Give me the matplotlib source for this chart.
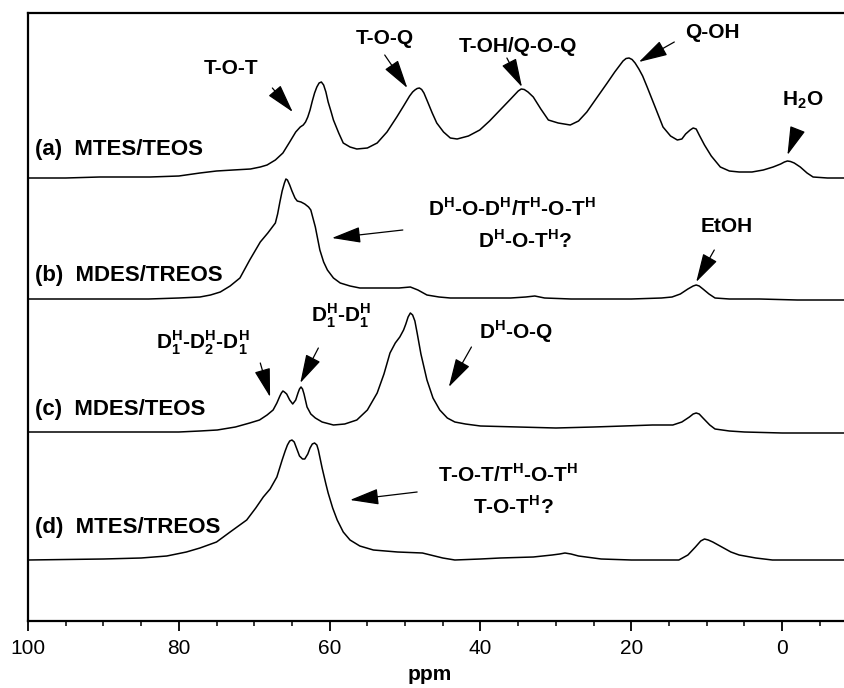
import matplotlib
matplotlib.use("Agg")
import matplotlib.pyplot as plt

plt.rcParams['font.family'] = ['Liberation Sans', 'DejaVu Sans']
plt.rcParams['mathtext.fontset'] = 'custom'
plt.rcParams['mathtext.rm'] = 'Liberation Sans'
plt.rcParams['mathtext.bf'] = 'Liberation Sans:bold'

# (a) MTES/TEOS
a_ppm = [100, 95, 90.5, 86, 83.8, 80, 77.2, 75, 72.8, 70.5, 69.2, 68.3, 67.2, 66.2, 65.3, 64.5,
         63.9, 63.5, 63.2, 62.9, 62.6, 62.3, 62.0, 61.7, 61.4, 61.1, 60.8, 60.5, 60.2, 59.8, 59.5,
         58.8, 58.2, 57.3, 56.4, 55.0, 53.7, 52.4, 51.1, 50.2, 49.4, 49.0, 48.7, 48.4, 48.1, 47.8,
         47.5, 47.0, 46.4, 45.8, 44.9, 44.0, 43.1, 41.6, 40.1, 38.8, 37.4, 36.0, 35.5, 35.0, 34.6,
         34.2, 33.7, 33.0, 32.0, 31.0, 29.7, 28.1, 27.0, 25.9, 24.6, 23.2, 22.2, 21.6, 21.1, 20.7,
         20.3, 19.9, 19.5, 19.0, 18.5, 17.9, 16.9, 15.8, 14.8, 13.9, 13.3, 12.8, 12.2, 11.8, 11.4,
         11.0, 10.3, 9.4, 8.2, 7.0, 5.7, 4.0, 2.5, 1.2, 0.2, -0.3, -0.7, -1.1, -1.6, -2.4, -3.3,
         -4.1, -6.0, -8.2]
a_int = [0, 0, 1, 1, 1, 2, 5, 7, 8, 9, 11, 13, 18, 25, 36, 46,
         51, 53, 56, 61, 68, 77, 85, 91, 95, 96, 93, 86, 76, 66, 58,
         45, 35, 31, 29, 30, 35, 46, 61, 72, 82, 86, 88, 89.5, 90, 88.5,
         85, 76, 65, 55, 46, 40, 39, 42, 48, 57, 68, 79, 83, 87, 89,
         88.5, 86, 81, 69, 58, 55, 53, 57, 66, 80, 95, 106, 112, 117, 119.5,
         120, 118.5, 115, 109, 102, 91, 72, 51, 42, 38, 39, 44, 48, 50, 49,
         43, 33, 22, 11, 7, 6, 6, 8, 11, 14, 16, 17, 16.5, 15, 11, 5,
         1, 0, 0]

# (b) MDES/TREOS
b_ppm = [100, 90, 84, 80, 77.2, 75.8, 74.5, 73.2, 71.9, 70.6, 69.2, 68.2, 67.2, 66.9, 66.6, 66.3,
         66.0, 65.8, 65.6, 65.3, 65.0, 64.6, 64.3, 63.8, 63.3, 62.8, 62.5, 61.9, 61.3, 60.8, 60.3,
         59.5, 58.6, 57.3, 56.0, 54.0, 52.4, 50.8, 49.3, 48.3, 47.1, 45.5, 44.0, 40.0, 36.0, 34.0,
         32.8, 31.5, 28.0, 24.0, 20.0, 16.0, 14.6, 13.5, 12.5, 11.8, 11.4, 11.0, 10.5, 9.7, 8.9,
         7.0, 3.0, -2.0, -8.2]
b_int = [0, 0, 0, 1, 2, 4, 7, 13, 21, 39, 57, 66, 76, 85, 97, 108,
         116, 120, 119, 114, 108, 101, 98, 97, 95, 92, 89, 72, 49, 37, 29,
         21, 16, 13, 11, 11, 11, 11, 12, 9, 4, 2, 1, 1, 1, 2,
         3, 1, 0, 0, 0, 1, 2, 5, 10, 13, 14, 13, 10, 5, 1,
         0, 0, -1, -1]

# (c) MDES/TEOS
c_ppm = [100, 90, 80, 77.2, 74.9, 72.5, 70.6, 69.3, 68.3, 67.5, 67.0, 66.6, 66.4, 66.2, 66.0, 65.7,
         65.3, 64.9, 64.5, 64.2, 64.0, 63.8, 63.6, 63.4, 63.0, 62.5, 61.9, 61.0, 59.5, 58.0, 56.4,
         55.0, 53.7, 52.8, 52.0, 51.3, 50.7, 50.2, 49.9, 49.6, 49.3, 49.0, 48.7, 48.4, 47.9, 47.1,
         46.3, 45.4, 44.4, 43.4, 42.0, 40.0, 35.0, 30.0, 25.0, 21.0, 17.2, 14.5, 13.3, 12.3, 11.8,
         11.4, 11.0, 10.5, 9.6, 8.9, 7.0, 5.0, 0.0, -8.2]
c_int = [0, 0, 0, 1, 2, 5, 9, 12, 17, 22, 29, 36, 39, 41, 40, 38,
         32, 28, 32, 39, 43, 45, 43, 38, 25, 18, 14, 10, 7, 8, 12,
         22, 39, 58, 79, 89, 95, 102, 108, 115, 119, 117, 111, 99, 78, 52,
         34, 22, 14, 10, 8, 6, 5, 4, 5, 6, 7, 7, 10, 15, 18,
         19, 18, 14, 7, 3, 1, 0, -1, -1]

# (d) MTES/TREOS
d_ppm = [100, 90, 85, 81.6, 79, 77.2, 75, 73.2, 71.0, 69.8, 68.8, 67.9, 67.0, 66.3, 65.9, 65.6,
         65.3, 65.0, 64.7, 64.5, 64.0, 63.6, 63.3, 62.9, 62.6, 62.3, 62.0, 61.7, 61.5, 61.0, 60.5,
         60.2, 59.6, 59.0, 58.2, 57.3, 56.0, 54.2, 51.0, 47.7, 45.0, 43.4, 40.0, 37.4, 33.0, 30.5,
         29.5, 28.8, 28.0, 27.0, 24.0, 20.0, 16.0, 13.7, 12.5, 11.5, 10.8, 10.3, 9.8, 9.2, 8.0,
         6.8, 5.7, 3.5, 1.3, -3.0, -8.2]
d_int = [0, 1, 2, 4, 8, 12, 18, 28, 40, 52, 63, 71, 83, 100, 109, 115,
         119, 120, 118, 114, 104, 101, 101, 106, 112, 116, 117, 115, 110, 92, 76,
         67, 52, 40, 28, 20, 14, 10, 8, 7, 2, 0, 1, 2, 3, 5,
         6, 7, 6, 4, 1, 0, 0, 0, 5, 13, 19, 21, 20, 18, 13,
         8, 5, 2, 0, 0, 0]

traces = [(a_ppm, a_int), (b_ppm, b_int), (c_ppm, c_int), (d_ppm, d_int)]
sample_labels = ['(a)  MTES/TEOS', '(b)  MDES/TREOS', '(c)  MDES/TEOS', '(d)  MTES/TREOS']
offsets = [443, 322, 189, 61]
label_y = [471, 346, 211, 93]

fig = plt.figure(figsize=(8.44, 6.88), dpi=100)
ax = fig.add_axes([28 / 844, 67 / 688, 816 / 844, 608 / 688])

for (x, y), off in zip(traces, offsets):
    ax.plot(x, [v + off for v in y], color='black', lw=1.1)

for lab, ly in zip(sample_labels, label_y):
    ax.text(99.1, ly, lab, fontsize=16, fontweight='bold', ha='left', va='center')

ax.set_xlim(100, -8.2)
ax.set_ylim(0, 608)
ax.set_xticks([100, 80, 60, 40, 20, 0])
ax.set_xticks(range(95, -8, -5), minor=True)
ax.set_yticks([])
ax.tick_params(axis='x', which='major', direction='out', length=7, width=1.3,
               labelsize=15, pad=6)
ax.tick_params(axis='x', which='minor', direction='out', length=3.6, width=1.1)
ax.spines['right'].set_visible(False)
for s in ['left', 'bottom', 'top']:
    ax.spines[s].set_linewidth(1.6)
fig.text(430 / 844, 1 - 675 / 688, 'ppm', fontsize=15, fontweight='bold',
         ha='center', va='center')

H = r'$^{\mathbf{H}}$'


def arrow(tail, head):
    ax.annotate('', xy=head, xytext=tail,
                arrowprops=dict(arrowstyle='-|>,head_length=1.8,head_width=0.5',
                                color='black', lw=0.9, shrinkA=0, shrinkB=0))


def note(x, y, s):
    ax.text(x, y, s, fontsize=15, fontweight='bold', ha='center', va='center')


# annotations for (a)
note(73.1, 552, 'T-O-T')
arrow((67.6, 533), (64.9, 509))
note(52.7, 582, 'T-O-Q')
arrow((52.7, 566), (49.7, 533))
note(35.1, 575, 'T-OH/Q-O-Q')
arrow((36.5, 563), (34.5, 534))
note(9.3, 589, 'Q-OH')
arrow((14.3, 579), (19.0, 559))
note(-2.7, 521, r'H$_{\mathbf{2}}$O')
arrow((-2.0, 491), (-0.7, 466))

# annotations for (b)
note(35.8, 413, 'D' + H + '-O-D' + H + '/T' + H + '-O-T' + H)
note(34.1, 381, 'D' + H + '-O-T' + H + '?')
arrow((50.3, 391), (59.7, 383))
note(7.3, 394, 'EtOH')
arrow((9.0, 371), (11.4, 339))

# annotations for (c)
D1 = r'D$^{\mathbf{H}}_{\mathbf{1}}$'
D2 = r'D$^{\mathbf{H}}_{\mathbf{2}}$'
note(76.8, 278, D1 + '-' + D2 + '-' + D1)
arrow((69.2, 258), (67.9, 224))
note(58.5, 305, D1 + '-' + D1)
arrow((61.5, 273), (63.9, 238))
note(35.3, 289, 'D' + H + '-O-Q')
arrow((41.2, 274), (44.2, 234))

# annotations for (d)
note(36.3, 147, 'T-O-T/T' + H + '-O-T' + H)
note(35.7, 115, 'T-O-T' + H + '?')
arrow((48.4, 129), (57.3, 121))

fig.savefig('out.png', dpi=100)
